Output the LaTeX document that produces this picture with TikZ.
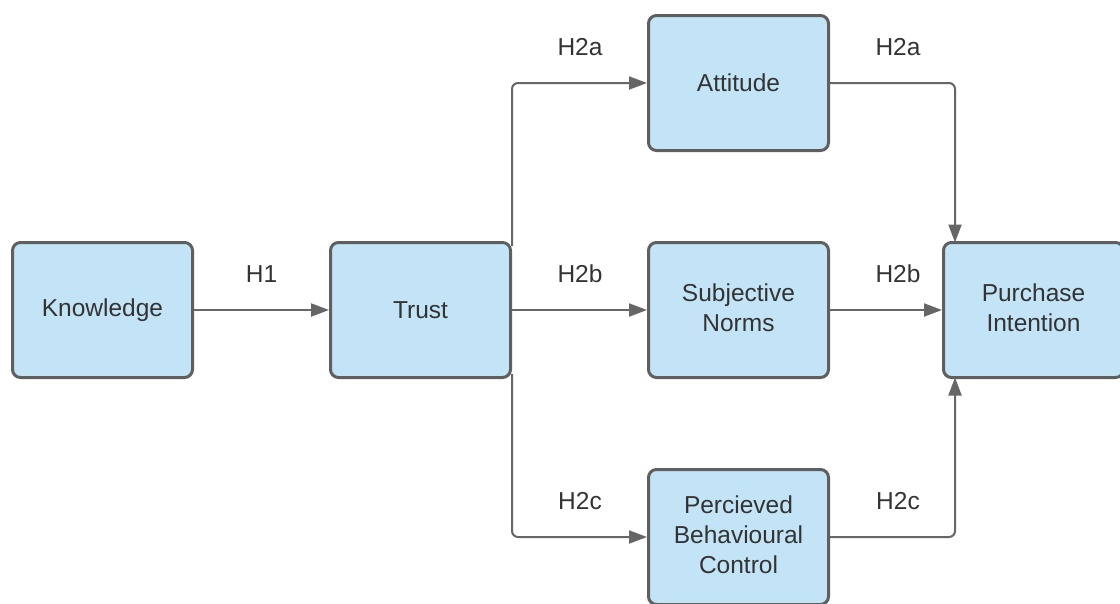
\documentclass[tikz,border=0pt]{standalone}
\usepackage{fontspec}
\setmainfont{Liberation Sans}
\usetikzlibrary{arrows.meta}
\definecolor{boxfill}{HTML}{C3E4F6}
\definecolor{boxline}{HTML}{5F5F5F}
\definecolor{conn}{HTML}{666666}
\definecolor{txt}{HTML}{333333}
\newcommand{\mlines}[1]{\raisebox{3pt}{\begin{tabular}{@{}c@{}}#1\end{tabular}}}
\begin{document}
\begin{tikzpicture}[x=1pt,y=-1pt,
  box/.style={draw=boxline,fill=boxfill,line width=3pt,rounded corners=8pt,
    minimum width=180pt,minimum height=135pt,align=center,text=txt,
    font=\fontsize{24.5pt}{30pt}\selectfont,inner sep=0pt},
  lab/.style={text=txt,font=\fontsize{24.5pt}{30pt}\selectfont,inner sep=0pt},
  arr/.style={draw=conn,line width=2pt,rounded corners=6pt,-{Triangle[length=18pt,width=13pt]}}]
\clip (0,0) rectangle (1120,603);
\fill[white] (0,0) rectangle (1120,603);
\node[box] (know) at (102.5,310) {Knowledge};
\node[box] (trust) at (420.5,310) {Trust};
\node[box] (att) at (738.5,83) {Attitude};
\node[box] (sub) at (738.5,310) {\mlines{Subjective\\Norms}};
\node[box] (pbc) at (738.5,537) {\mlines{Percieved\\Behavioural\\Control}};
\node[box] (pi) at (1033.5,310) {\mlines{Purchase\\Intention}};
\draw[arr] ([yshift=-5pt]trust.north east) -- (trust.north east |- att.west) -- (att.west);
\draw[arr] (know.east) -- (trust.west);
\draw[arr] (trust.east) -- (sub.west);
\draw[arr] ([yshift=5pt]trust.south east) -- (trust.south east |- pbc.west) -- (pbc.west);
\coordinate (pitop) at (955,242.5);
\coordinate (pibot) at (955,377.5);
\draw[arr] (att.east) -- (att.east -| pitop) -- (pitop);
\draw[arr] (sub.east) -- (pi.west);
\draw[arr] (pbc.east) -- (pbc.east -| pibot) -- (pibot);
\node[lab] (l1) at (261.5,274) {H1};
\node[lab] (l2a) at (580,47) {H2a};
\node[lab] (l2b) at (580,274) {H2b};
\node[lab] (l2c) at (580,501) {H2c};
\node[lab] (r2a) at (898,47) {H2a};
\node[lab] (r2b) at (898,274) {H2b};
\node[lab] (r2c) at (898,501) {H2c};
\end{tikzpicture}
\end{document}
